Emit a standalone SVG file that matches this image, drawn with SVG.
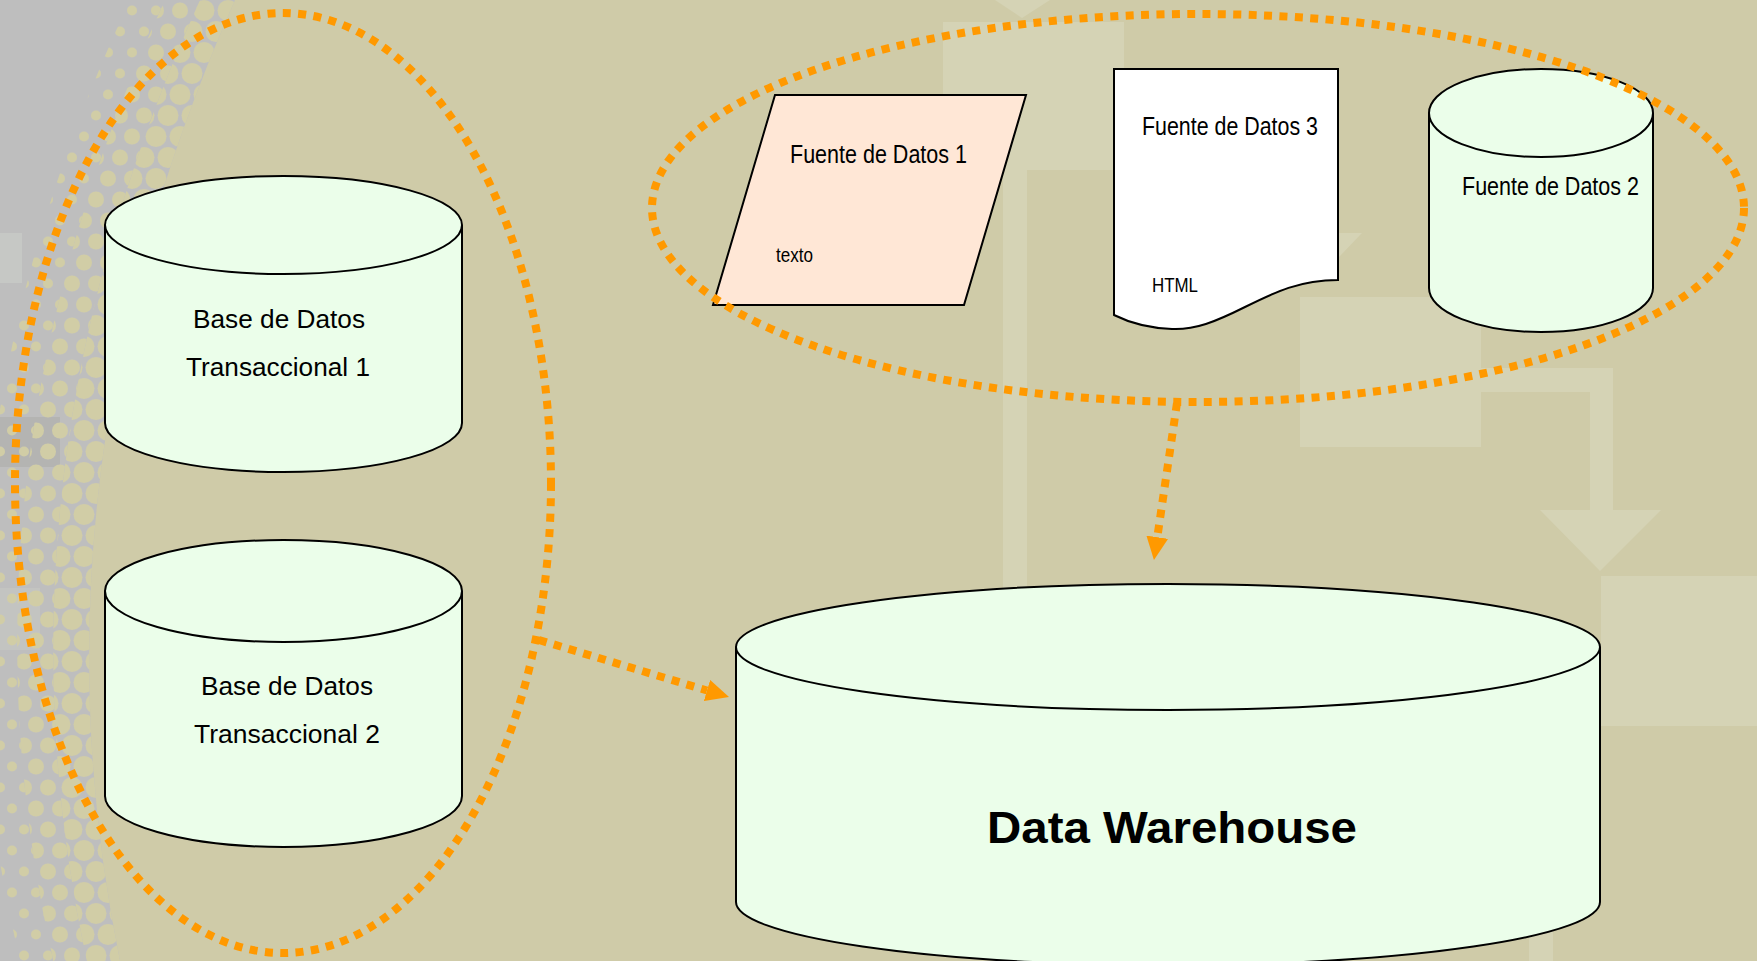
<svg xmlns="http://www.w3.org/2000/svg" width="1757" height="961" viewBox="0 0 1757 961">
  <defs>
    <style>
      .shape { stroke:#000; stroke-width:2; }
      .cyl { fill:#EBFEEA; }
      .dots { fill:none; stroke:#FF9900; stroke-width:8; stroke-dasharray:8 7.4; }
      .t { font-family:"Liberation Sans", Arial, Helvetica, sans-serif; fill:#000; text-anchor:middle; }
      .faint { fill:#D5D3B5; }
    </style>
    <pattern id="hA" width="24" height="42" patternUnits="userSpaceOnUse">
      <circle cx="12" cy="10.5" r="10.5" fill="#D1CDA6"/>
      <circle cx="0" cy="31.5" r="10.5" fill="#D1CDA6"/>
      <circle cx="24" cy="31.5" r="10.5" fill="#D1CDA6"/>
    </pattern>
    <pattern id="hB" width="24" height="42" patternUnits="userSpaceOnUse">
      <circle cx="12" cy="10.5" r="8" fill="#D1CDA6"/>
      <circle cx="0" cy="31.5" r="8" fill="#D1CDA6"/>
      <circle cx="24" cy="31.5" r="8" fill="#D1CDA6"/>
    </pattern>
    <pattern id="hC" width="24" height="42" patternUnits="userSpaceOnUse">
      <circle cx="12" cy="10.5" r="5" fill="#D1CDA6"/>
      <circle cx="0" cy="31.5" r="5" fill="#D1CDA6"/>
      <circle cx="24" cy="31.5" r="5" fill="#D1CDA6"/>
    </pattern>
    <marker id="arr" markerUnits="userSpaceOnUse" viewBox="0 -11 23 22" markerWidth="23" markerHeight="22" refX="0" refY="0" orient="auto">
      <path d="M0,-11 L23,0 L0,11 Z" fill="#FF9900"/>
    </marker>
  </defs>

  <!-- background -->
  <g id="background">
    <rect x="0" y="0" width="1757" height="961" fill="#CFCBA8"/>
    <path d="M0,0 H235 Q22,480 120,961 H0 Z" fill="#BEBEBE"/>
    <rect x="0" y="233" width="22" height="50" fill="#C6C8C5"/>
    <rect x="0" y="417" width="60" height="50" fill="#B4B4B2"/>
    <rect x="0" y="588" width="40" height="62" fill="#C3C4C1"/>
    <path d="M235,0 Q22,480 120,961 L86.7,961 Q-17,480 200,0 Z" fill="url(#hA)"/>
    <path d="M200,0 Q-17,480 86.7,961 L53.3,961 Q-56,480 165,0 Z" fill="url(#hB)"/>
    <path d="M165,0 Q-56,480 53.3,961 L20,961 Q-95,480 130,0 Z" fill="url(#hC)"/>
    <rect class="faint" x="943" y="22" width="181" height="148"/>
    <polygon class="faint" points="995,0 1050,0 1022,18"/>
    <rect class="faint" x="1003" y="170" width="24" height="791"/>
    <polygon class="faint" points="1339,233 1362,233 1339,257"/>
    <rect class="faint" x="1300" y="297" width="181" height="150"/>
    <rect class="faint" x="1481" y="368" width="132" height="24"/>
    <rect class="faint" x="1590" y="368" width="23" height="142"/>
    <polygon class="faint" points="1540,510 1661,510 1600,571"/>
    <rect class="faint" x="1601" y="576" width="156" height="150"/>
    <rect class="faint" x="1529" y="726" width="24" height="235"/>
  </g>

  <!-- nodes -->
  <g id="db-transaccional-1">
    <path class="shape cyl" d="M105,225 A178.5,49 0 0 1 462,225 V423 A178.5,49 0 0 1 105,423 Z"/>
    <path class="shape" fill="none" d="M105,225 A178.5,49 0 0 0 462,225"/>
    <text class="t" x="279" y="328" font-size="26.5" textLength="172" lengthAdjust="spacingAndGlyphs">Base de Datos</text>
    <text class="t" x="278" y="376" font-size="26.5" textLength="184" lengthAdjust="spacingAndGlyphs">Transaccional 1</text>
  </g>

  <g id="db-transaccional-2">
    <path class="shape cyl" d="M105,591 A178.5,51 0 0 1 462,591 V796 A178.5,51 0 0 1 105,796 Z"/>
    <path class="shape" fill="none" d="M105,591 A178.5,51 0 0 0 462,591"/>
    <text class="t" x="287" y="695" font-size="26.5" textLength="172" lengthAdjust="spacingAndGlyphs">Base de Datos</text>
    <text class="t" x="287" y="743" font-size="26.5" textLength="186" lengthAdjust="spacingAndGlyphs">Transaccional 2</text>
  </g>

  <g id="fuente-datos-1">
    <polygon class="shape" fill="#FFE7D6" points="775,95 1026,95 964,305 713,305"/>
    <text class="t" x="878.5" y="163" font-size="25" textLength="177" lengthAdjust="spacingAndGlyphs">Fuente de Datos 1</text>
    <text class="t" x="794.5" y="262" font-size="20" textLength="37" lengthAdjust="spacingAndGlyphs">texto</text>
  </g>

  <g id="fuente-datos-3">
    <path class="shape" fill="#FFFFFF" d="M1114,69 H1338 V280 C1300,280 1275,292 1245,307 C1215,322 1195,330 1172,329 C1148,328 1128,322 1114,315 Z"/>
    <text class="t" x="1230" y="135" font-size="25" textLength="176" lengthAdjust="spacingAndGlyphs">Fuente de Datos 3</text>
    <text class="t" x="1175" y="292" font-size="20" textLength="46" lengthAdjust="spacingAndGlyphs">HTML</text>
  </g>

  <g id="fuente-datos-2">
    <path class="shape cyl" d="M1429,113 A112,44 0 0 1 1653,113 V288 A112,44 0 0 1 1429,288 Z"/>
    <path class="shape" fill="none" d="M1429,113 A112,44 0 0 0 1653,113"/>
    <text class="t" x="1550.5" y="195" font-size="25" textLength="177" lengthAdjust="spacingAndGlyphs">Fuente de Datos 2</text>
  </g>

  <g id="data-warehouse">
    <path class="shape cyl" d="M736,647 A432,63 0 0 1 1600,647 V902 A432,63 0 0 1 736,902 Z"/>
    <path class="shape" fill="none" d="M736,647 A432,63 0 0 0 1600,647"/>
    <text class="t" x="1172" y="843" font-size="45" font-weight="bold" textLength="370" lengthAdjust="spacingAndGlyphs">Data Warehouse</text>
  </g>

  <!-- group outlines -->
  <g id="grupo-transaccional">
    <ellipse class="dots" cx="283" cy="483" rx="268" ry="470"/>
  </g>
  <g id="grupo-fuentes">
    <ellipse class="dots" cx="1198" cy="208" rx="546" ry="194"/>
  </g>

  <!-- connectors -->
  <g id="connectors">
    <path class="dots" d="M539,640 L707,690.5" marker-end="url(#arr)"/>
    <path class="dots" d="M1177,403 L1157.3,537.2" marker-end="url(#arr)"/>
  </g>
</svg>
